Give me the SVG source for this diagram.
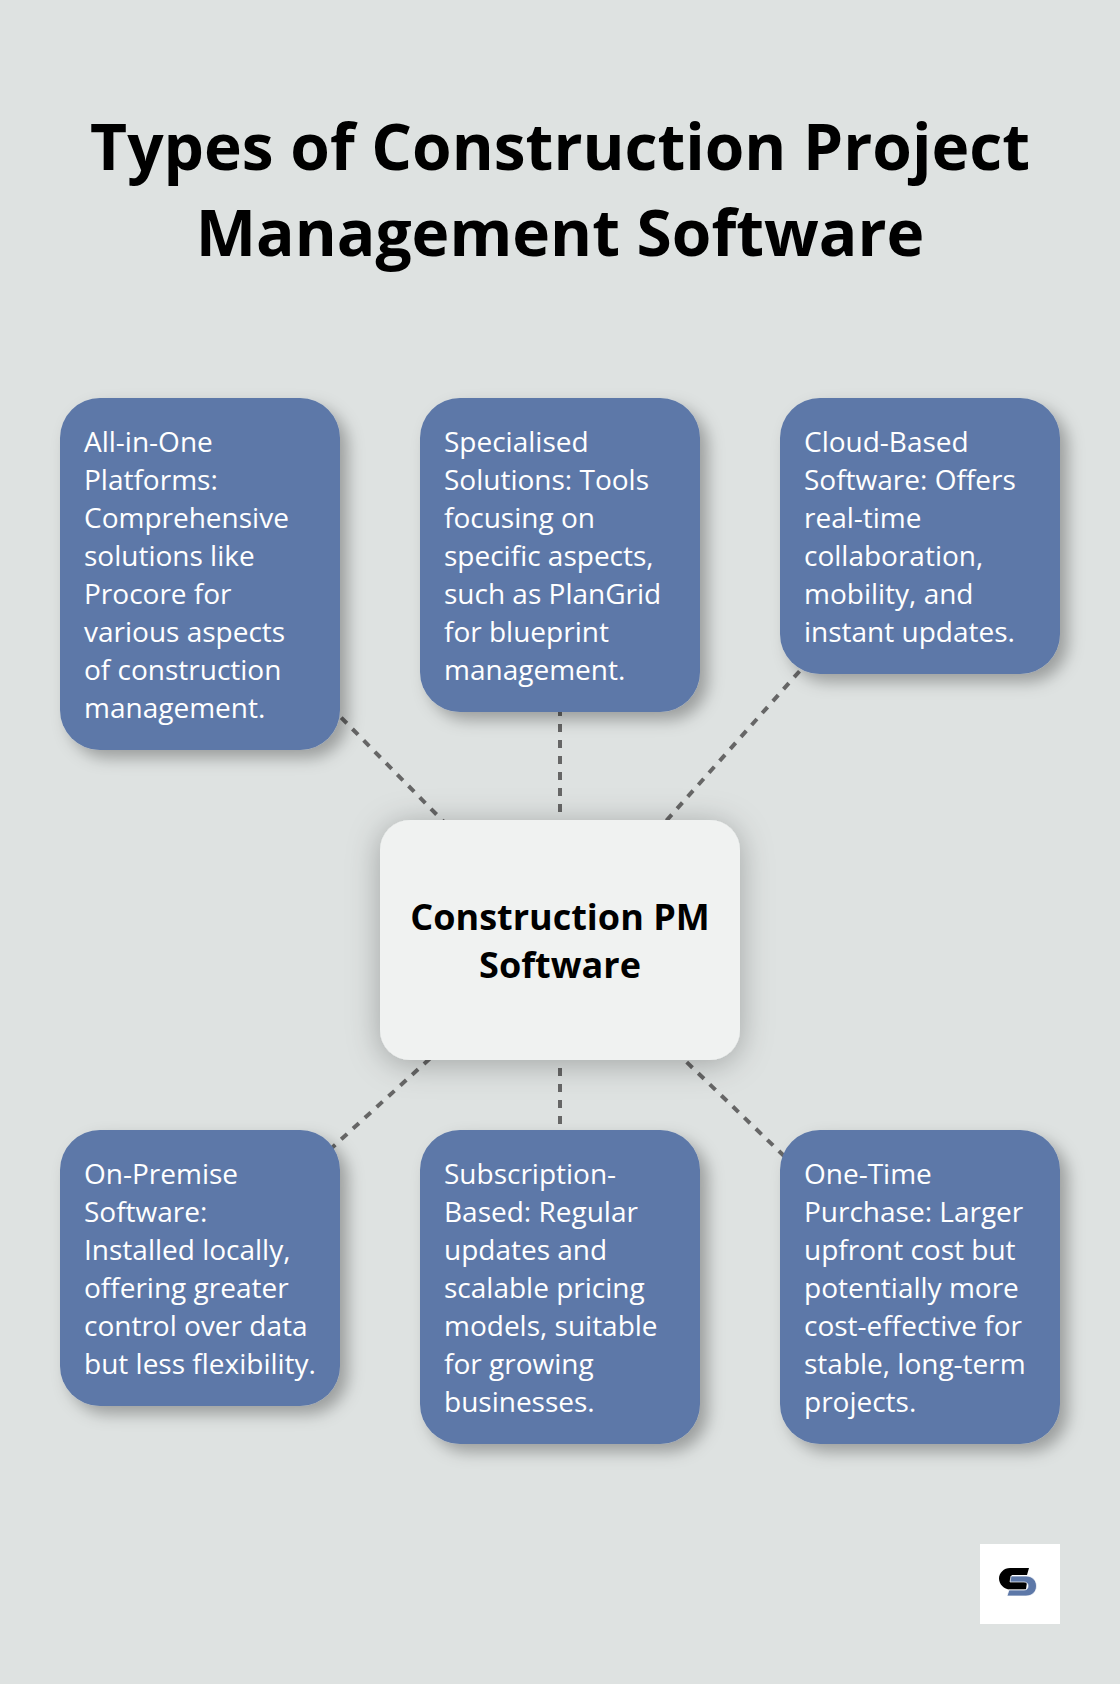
<svg xmlns="http://www.w3.org/2000/svg" width="1120" height="1684" viewBox="0 0 1120 1684">
<defs>
<filter id="sb" x="-30%" y="-30%" width="160%" height="160%"><feDropShadow dx="8" dy="8" stdDeviation="8" flood-color="#000" flood-opacity="0.3"/></filter>
<filter id="sc" x="-30%" y="-30%" width="160%" height="160%"><feDropShadow dx="0" dy="4" stdDeviation="16" flood-color="#000" flood-opacity="0.28"/></filter>
</defs>
<style>
text{font-family:"Open Sans","Noto Sans",sans-serif}
.title{font-size:64px;font-weight:700;fill:#000;text-anchor:middle}
.b{fill:#5d78a8;filter:url(#sb)}
.c{fill:#f0f2f1;filter:url(#sc)}
.t{font-size:28px;fill:#fff}
.ct{font-size:36px;font-weight:700;fill:#000;text-anchor:middle}
.l{stroke:#666;stroke-width:4;stroke-dasharray:8 8;fill:none}
</style>
<rect width="1120" height="1684" fill="#dee2e1"/>
<g id="title"><text class="title" x="560" y="170">Types of Construction Project</text><text class="title" x="560" y="256">Management Software</text></g>
<g id="connectors">
<line class="l" x1="560" y1="940" x2="200" y2="574"/>
<line class="l" x1="560" y1="940" x2="560" y2="555"/>
<line class="l" x1="560" y1="940" x2="920" y2="536"/>
<line class="l" x1="560" y1="940" x2="200" y2="1268"/>
<line class="l" x1="560" y1="940" x2="560" y2="1287"/>
<line class="l" x1="560" y1="940" x2="920" y2="1287"/>
</g>
<g id="node-all-in-one"><rect class="b" x="60" y="398" width="280" height="352" rx="40"/>
<text class="t" x="84" y="452">All-in-One</text><text class="t" x="84" y="490">Platforms:</text><text class="t" x="84" y="528">Comprehensive</text><text class="t" x="84" y="566">solutions like</text><text class="t" x="84" y="604">Procore for</text><text class="t" x="84" y="642">various aspects</text><text class="t" x="84" y="680">of construction</text><text class="t" x="84" y="718">management.</text></g>
<g id="node-specialised"><rect class="b" x="420" y="398" width="280" height="314" rx="40"/>
<text class="t" x="444" y="452">Specialised</text><text class="t" x="444" y="490">Solutions: Tools</text><text class="t" x="444" y="528">focusing on</text><text class="t" x="444" y="566">specific aspects,</text><text class="t" x="444" y="604">such as PlanGrid</text><text class="t" x="444" y="642">for blueprint</text><text class="t" x="444" y="680">management.</text></g>
<g id="node-cloud"><rect class="b" x="780" y="398" width="280" height="276" rx="40"/>
<text class="t" x="804" y="452">Cloud-Based</text><text class="t" x="804" y="490">Software: Offers</text><text class="t" x="804" y="528">real-time</text><text class="t" x="804" y="566">collaboration,</text><text class="t" x="804" y="604">mobility, and</text><text class="t" x="804" y="642">instant updates.</text></g>
<g id="node-center"><rect class="c" x="380" y="820" width="360" height="240" rx="30"/>
<text class="ct" x="560" y="930">Construction PM</text><text class="ct" x="560" y="978">Software</text></g>
<g id="node-on-premise"><rect class="b" x="60" y="1130" width="280" height="276" rx="40"/>
<text class="t" x="84" y="1184">On-Premise</text><text class="t" x="84" y="1222">Software:</text><text class="t" x="84" y="1260">Installed locally,</text><text class="t" x="84" y="1298">offering greater</text><text class="t" x="84" y="1336">control over data</text><text class="t" x="84" y="1374">but less flexibility.</text></g>
<g id="node-subscription"><rect class="b" x="420" y="1130" width="280" height="314" rx="40"/>
<text class="t" x="444" y="1184">Subscription-</text><text class="t" x="444" y="1222">Based: Regular</text><text class="t" x="444" y="1260">updates and</text><text class="t" x="444" y="1298">scalable pricing</text><text class="t" x="444" y="1336">models, suitable</text><text class="t" x="444" y="1374">for growing</text><text class="t" x="444" y="1412">businesses.</text></g>
<g id="node-one-time"><rect class="b" x="780" y="1130" width="280" height="314" rx="40"/>
<text class="t" x="804" y="1184">One-Time</text><text class="t" x="804" y="1222">Purchase: Larger</text><text class="t" x="804" y="1260">upfront cost but</text><text class="t" x="804" y="1298">potentially more</text><text class="t" x="804" y="1336">cost-effective for</text><text class="t" x="804" y="1374">stable, long-term</text><text class="t" x="804" y="1412">projects.</text></g>
<g id="logo"><rect x="980" y="1544" width="80" height="80" fill="#fff"/>
<path fill="#000" d="M1029 1568H1010C1004 1568 999 1573 999 1578.500C999 1584 1004 1589.500 1010 1589.500H1026L1027 1582H1010L1012 1575H1027Z"/>
<path fill="#5d78a8" stroke="#fff" stroke-width=".7" d="M1011 1576H1026C1032 1576 1036.500 1580 1036.500 1586C1036.500 1592 1032 1596 1026 1596H1007L1009 1590H1024C1027 1590 1028 1588 1028 1586C1028 1584 1027 1582 1024 1582H1010Z"/>
</g>
</svg>
